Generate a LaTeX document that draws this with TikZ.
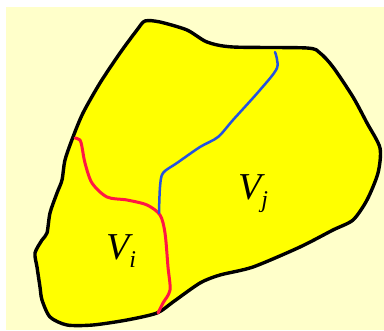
\documentclass[tikz,border=0pt]{standalone}
\usepackage{fontspec}
\setmainfont{Liberation Serif}
\usepackage{tikz}
\definecolor{VCream}{HTML}{FFFFCA}
\definecolor{VYellow}{HTML}{FFFF00}
\definecolor{VRed}{HTML}{FF1744}
\definecolor{VBlue}{HTML}{2452E0}

\begin{document}
\begin{tikzpicture}[x=1pt,y=-1pt,line join=round,line cap=round]
\path[use as bounding box] (0,0) rectangle (384,331);
\fill[white] (0,0) rectangle (384,331);
\fill[VCream] (6,7) rectangle (384,330);
\filldraw[fill=VYellow,draw=black,line width=3.4pt] plot[smooth cycle,tension=0.45] coordinates {
(145,21) (160,22) (187,30) (207,42) (233,47) (307,48) (320,53) (333,67)
(353,97) (367,123) (380,148) (378,173) (367,200) (353,220) (333,230)
(300,247) (253,267) (220,275) (200,283) (173,302) (157,313) (127,320)
(93,325) (67,325) (50,317) (42,300) (40,287) (37,267) (35,253) (42,240)
(47,233) (50,213) (57,193) (62,180) (65,160) (73,137) (83,113) (100,83)
(120,53) (137,30)};
\draw[VRed,line width=3pt] plot[smooth,tension=0.5] coordinates {
(75,138) (80,140) (82,147) (85,163) (92,183) (107,197) (127,200)
(147,205) (160,215) (165,233) (168,267) (170,290) (163,303) (158,313)};
\draw[VBlue,line width=2.5pt] plot[smooth,tension=0.5] coordinates {
(275,52) (277,68) (260,90) (233,120) (218,137) (200,147) (177,163)
(163,173) (160,187) (159,213)};
\node[font=\fontsize{38}{44}\selectfont] (vi) at (121,251) {\itshape V\raisebox{-8pt}{\fontsize{24}{28}\selectfont i}};
\node[font=\fontsize{38}{44}\selectfont] (vj) at (253,194) {\itshape V\raisebox{-8pt}{\fontsize{24}{28}\selectfont j}};
\end{tikzpicture}
\end{document}
